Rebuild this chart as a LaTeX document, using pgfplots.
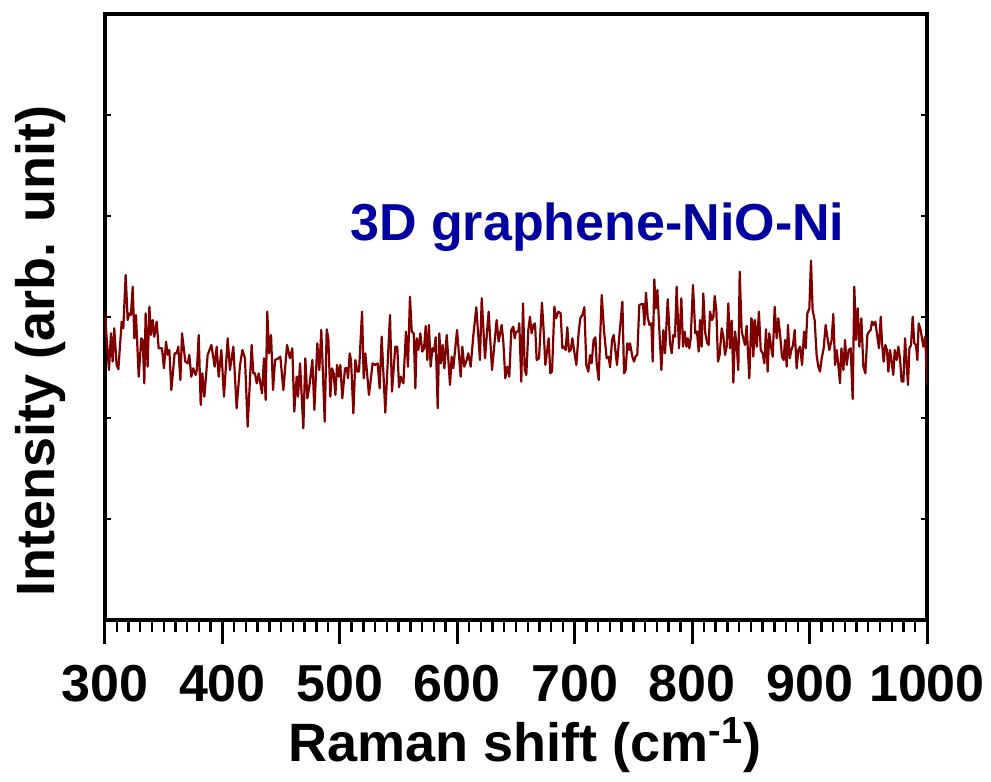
\documentclass[border=0pt]{standalone}
\usepackage{fontspec}
\setmainfont{Liberation Sans}
\usepackage{pgfplots}
\usepackage{pgfplotstable}
\pgfplotsset{compat=1.18}

\definecolor{specred}{RGB}{128,0,0}
\definecolor{lblblue}{RGB}{0,0,160}

% Raman spectrum (arb. units)
\pgfplotstableread{
x y
300 3.020
303.4 2.475
305.1 2.838
306.5 2.558
307.9 2.888
309.9 2.525
311.4 2.482
314.2 2.954
315.6 2.888
317.6 3.416
319.3 2.970
320.7 3.036
322.1 3.020
323.6 3.300
325.0 2.789
326.4 3.020
328.7 2.409
330.9 2.789
332.1 2.772
333.5 2.343
334.6 3.036
336.3 2.508
337.8 3.102
339.2 2.822
340.6 2.970
342.0 2.805
344.0 2.954
345.7 2.690
348.5 2.690
350.2 2.492
352.0 2.756
353.4 2.624
354.8 2.673
356.5 2.277
359.3 2.640
361.0 2.640
362.4 2.706
364.2 2.376
365.6 2.838
368.4 2.558
370.4 2.541
371.8 2.624
373.5 2.409
375.2 2.492
377.2 2.426
378.3 2.475
379.8 2.822
381.5 2.129
382.9 2.442
384.6 2.211
386.0 2.409
387.4 2.624
390.6 2.723
393.4 2.508
395.1 2.706
396.8 2.409
399.1 2.673
401.3 2.211
404.5 2.789
406.4 2.475
409.3 2.706
412.1 2.096
415.0 2.525
417.0 2.673
419.2 2.591
421.5 1.914
424.9 2.723
426.3 2.442
427.7 2.442
429.2 2.343
430.9 2.442
433.7 2.244
435.4 2.591
436.8 2.178
438.2 3.053
439.7 2.640
441.4 2.822
443.1 2.277
444.8 2.574
447.6 2.591
449.3 2.607
451.9 2.277
455.0 2.723
457.5 2.591
459.5 2.690
461.2 2.063
463.2 2.409
464.4 2.211
466.1 2.541
468.9 1.898
470.6 2.591
472.3 2.195
474.0 2.310
476.6 2.574
478.3 2.079
480.8 2.739
482.5 2.475
484.2 2.871
487.1 1.964
488.8 2.878
490.2 2.789
491.9 2.211
493.3 2.492
494.7 2.442
496.2 2.228
497.6 2.525
499.0 2.409
500.4 2.525
502.1 2.195
504.4 2.492
506.1 2.492
506.9 2.393
508.4 2.640
509.5 2.574
511.5 2.046
513.2 2.574
514.9 2.459
516.3 2.459
518.9 3.053
520.3 2.393
521.7 2.640
524.8 2.228
527.9 2.541
529.9 2.525
532.2 2.541
533.9 2.294
535.6 2.805
538.7 2.053
542.7 3.020
544.4 2.261
547.2 2.706
548.9 2.706
550.4 2.304
551.8 2.409
554.1 2.343
556.3 2.855
558.0 2.508
559.7 3.201
561.2 2.855
562.9 2.838
564.3 2.294
565.4 2.789
566.8 2.673
568.5 2.838
570.2 2.657
571.7 2.690
573.1 2.911
574.5 2.574
575.9 2.921
577.3 2.508
578.8 2.690
580.2 2.657
581.6 2.799
583.3 2.096
584.7 2.838
586.1 2.541
587.6 2.723
589.0 2.492
591.0 2.822
593.8 2.327
595.2 2.607
596.6 2.492
599.8 2.871
602.9 2.409
604.3 2.706
606.0 2.508
608.0 2.574
609.4 2.640
611.4 2.508
613.7 2.822
616.2 3.096
619.3 2.574
620.8 3.185
623.6 2.591
626.7 3.053
629.6 2.475
633.5 2.970
635.2 2.756
637.8 2.921
639.2 2.756
640.9 2.393
642.6 2.508
644.3 2.409
646.0 2.871
647.7 2.904
648.9 2.789
650.0 2.855
652.0 2.855
652.8 2.937
654.5 2.360
656.0 3.135
657.4 2.475
658.8 2.426
660.5 2.871
661.9 3.003
663.3 2.838
664.8 2.921
666.2 2.937
667.6 2.574
669.6 2.591
672.1 3.142
673.6 2.855
675.0 2.525
677.8 2.789
679.2 2.442
680.7 2.459
682.7 3.102
684.1 2.987
686.1 3.053
688.0 3.036
689.5 2.690
690.9 2.706
692.3 2.673
693.7 2.898
695.1 2.657
696.6 2.673
698.0 2.789
699.4 2.673
701.4 2.525
703.4 2.855
704.8 2.987
706.5 3.020
708.2 3.096
709.9 2.525
711.6 2.459
713.0 2.624
714.4 2.541
716.1 2.772
717.6 2.799
718.7 2.541
720.4 2.376
723.0 3.218
724.9 2.871
727.2 2.591
728.9 2.607
730.1 2.502
731.8 2.772
733.2 2.822
734.6 2.673
736.0 2.525
738.3 2.855
740.6 3.152
742.0 2.442
743.4 2.475
744.8 2.739
746.2 2.673
747.1 2.739
749.1 2.607
750.5 2.558
751.9 2.614
753.3 2.624
755.0 3.119
756.7 3.126
758.2 3.129
759.3 2.921
760.7 3.241
762.1 3.003
763.6 2.921
765.3 2.937
766.4 2.558
767.8 3.373
769.0 3.086
770.4 3.267
771.8 2.937
773.8 2.475
775.5 2.871
776.9 2.640
779.2 3.175
781.2 2.739
782.6 2.640
784.0 2.822
785.4 2.805
786.8 3.300
788.8 2.690
790.8 3.185
792.2 2.706
793.6 2.855
795.1 2.706
796.2 2.789
797.6 2.690
798.8 2.789
800.7 3.317
802.7 2.838
804.1 2.855
805.6 2.657
806.7 2.970
808.1 2.706
809.5 3.234
811.2 2.838
812.9 2.739
814.1 2.723
815.2 3.053
816.9 2.970
818.1 3.003
819.2 3.208
820.6 3.069
822.0 2.558
823.4 2.624
825.2 2.888
826.6 2.805
828.0 2.624
829.4 2.706
830.8 3.135
832.2 2.690
833.7 2.964
835.1 2.350
836.5 2.855
837.9 2.723
839.3 2.475
840.5 3.449
842.2 2.855
843.6 2.789
845.0 2.723
846.4 2.911
848.7 2.393
850.4 2.987
851.3 2.954
852.1 2.607
853.5 2.970
855.0 2.706
856.9 3.053
858.4 2.673
860.1 2.640
861.5 2.541
862.9 2.878
864.3 2.459
865.7 2.838
867.2 2.706
868.6 2.607
870.3 3.102
872.0 2.789
873.4 2.987
874.8 2.838
876.5 2.607
877.9 2.574
879.1 2.772
880.5 2.508
881.6 2.921
883.1 2.591
884.5 2.673
885.9 2.723
887.3 2.871
889.0 2.492
890.4 2.673
891.9 2.706
893.6 2.525
895.3 2.855
896.7 2.690
898.1 3.036
899.8 3.086
901.2 3.558
902.6 3.069
904.3 2.970
906.1 2.607
907.5 2.508
908.9 2.459
910.3 2.591
912.0 2.690
913.7 2.921
915.1 2.805
916.8 2.673
918.8 2.772
920.2 3.030
921.7 2.525
923.1 2.673
924.5 2.525
925.9 2.343
927.1 2.690
928.8 2.475
930.2 2.772
931.6 2.525
933.3 2.673
935.0 2.690
936.7 2.188
938.1 3.300
939.6 2.772
941.0 3.086
942.4 2.706
944.1 2.987
945.8 2.508
947.5 2.442
949.2 2.822
950.6 2.855
952.0 2.871
953.2 2.954
954.6 2.921
956.0 2.954
957.7 2.805
959.1 2.690
960.6 3.003
961.7 2.739
963.1 2.558
964.5 2.723
965.9 2.673
967.1 2.459
968.5 2.673
969.9 2.558
971.3 2.426
972.5 2.673
974.2 2.574
975.6 2.706
977.0 2.591
978.4 2.360
979.9 2.360
981.3 2.789
982.7 2.525
983.8 2.327
985.0 2.690
986.4 2.723
987.8 3.003
989.2 2.739
990.6 2.723
991.8 2.574
992.9 2.937
994.6 2.871
996.9 2.706
998.6 2.805
1000 2.327
}\raman

\begin{document}
\begin{tikzpicture}
% overlay axis: only the short inward y ticks on both sides
\begin{axis}[
    scale only axis,
    width=411pt,
    height=303pt,
    xmin=300, xmax=1000,
    ymin=0, ymax=6,
    xtick=\empty,
    ytick={1,2,3,4,5},
    yticklabels={},
    ytick pos=both,
    tick align=inside,
    major tick length=3pt,
    major tick style={line width=1.2pt, black},
    axis line style={draw=none},
]
\end{axis}
\begin{axis}[
    scale only axis,
    width=411pt,
    height=303pt,
    xmin=300, xmax=1000,
    ymin=0, ymax=6,
    xtick={300,400,500,600,700,800,900,1000},
    xticklabels={300,400,500,600,700,800,900,1000},
    minor x tick num=9,
    ytick=\empty,
    xtick pos=left,
    tick align=outside,
    major tick length=12pt,
    minor tick length=6pt,
    major tick style={line width=1.5pt, black},
    minor tick style={line width=1.2pt, black},
    axis line style={line width=2pt},
    tick label style={font=\bfseries\fontsize{26}{26}\selectfont},
    xticklabel style={anchor=base, yshift=-29pt},
    label style={font=\bfseries\fontsize{27}{27}\selectfont},
    xlabel={Raman shift (cm\textsuperscript{-1})},
    xlabel style={at={(rel axis cs:0.511,0)}, anchor=base, yshift=-71pt},
    ylabel={Intensity (arb. unit)},
    ylabel style={at={(rel axis cs:-0.0779,0.444)}, anchor=center},
]
\addplot[color=specred, line width=1.1pt, line join=round] table[x=x, y=y] {\raman};
\node[font=\bfseries\fontsize{26}{26}\selectfont, text=lblblue, anchor=base]
    at (rel axis cs:0.599,0.627) {3D graphene-NiO-Ni};
\coordinate (bl) at (rel axis cs:0,0);
\coordinate (tr) at (rel axis cs:1,1);
\end{axis}
\pgfresetboundingbox
\path[use as bounding box] ([shift={(-52.5pt,-81pt)}]bl) rectangle ([shift={(32pt,7pt)}]tr);
\end{tikzpicture}
\end{document}
